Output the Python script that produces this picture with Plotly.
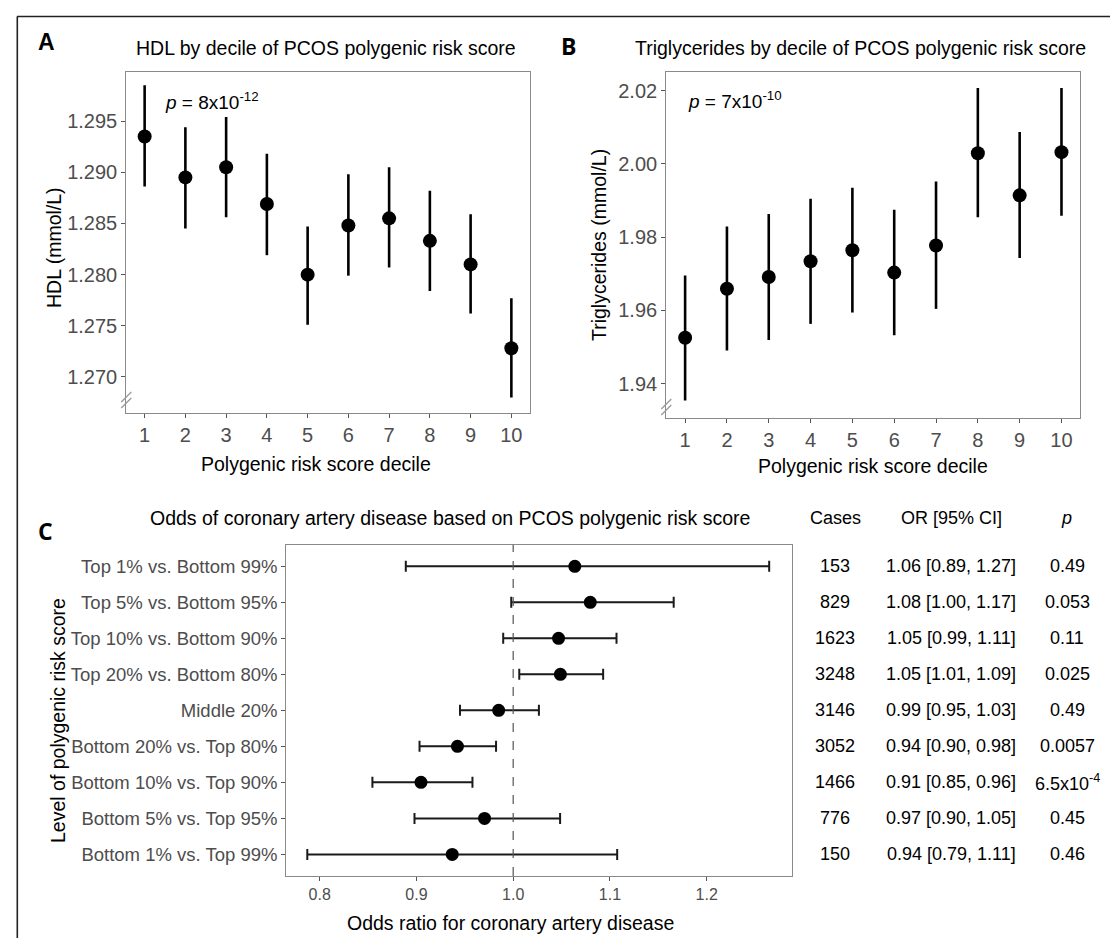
import plotly.graph_objects as go

W, H = 1118, 938

# ---------------- data ----------------
deciles = [1, 2, 3, 4, 5, 6, 7, 8, 9, 10]
hdl_mean = [1.2935, 1.2895, 1.2905, 1.2869, 1.2800, 1.2848, 1.2855, 1.2833, 1.2810, 1.2728]
hdl_lo = [1.2886, 1.2845, 1.2856, 1.2819, 1.2751, 1.2799, 1.2807, 1.2784, 1.2762, 1.2680]
hdl_hi = [1.2985, 1.2944, 1.2954, 1.2918, 1.2847, 1.2898, 1.2905, 1.2882, 1.2859, 1.2777]

tg_mean = [1.9525, 1.9659, 1.9691, 1.9734, 1.9764, 1.9703, 1.9777, 2.0029, 1.9914, 2.0032]
tg_lo = [1.9354, 1.9490, 1.9519, 1.9563, 1.9594, 1.9532, 1.9604, 1.9854, 1.9743, 1.9858]
tg_hi = [1.9695, 1.9829, 1.9863, 1.9905, 1.9935, 1.9875, 1.9952, 2.0207, 2.0087, 2.0207]

groups = ["Top 1% vs. Bottom 99%", "Top 5% vs. Bottom 95%", "Top 10% vs. Bottom 90%",
          "Top 20% vs. Bottom 80%", "Middle 20%", "Bottom 20% vs. Top 80%",
          "Bottom 10% vs. Top 90%", "Bottom 5% vs. Top 95%", "Bottom 1% vs. Top 99%"]
or_est = [1.0637, 1.0797, 1.0469, 1.0488, 0.985, 0.9424, 0.9047, 0.9704, 0.937]
or_lo = [0.889, 0.998, 0.9897, 1.0063, 0.945, 0.9032, 0.8545, 0.898, 0.7872]
or_hi = [1.2646, 1.1659, 1.1068, 1.093, 1.0266, 0.9823, 0.9579, 1.0485, 1.1075]
cases = ["153", "829", "1623", "3248", "3146", "3052", "1466", "776", "150"]
or_text = ["1.06 [0.89, 1.27]", "1.08 [1.00, 1.17]", "1.05 [0.99, 1.11]", "1.05 [1.01, 1.09]",
           "0.99 [0.95, 1.03]", "0.94 [0.90, 0.98]", "0.91 [0.85, 0.96]", "0.97 [0.90, 1.05]",
           "0.94 [0.79, 1.11]"]
p_text = ["0.49", "0.053", "0.11", "0.025", "0.49", "0.0057", "6.5x10<sup>-4</sup>", "0.45", "0.46"]

hdl_ticks = [1.270, 1.275, 1.280, 1.285, 1.290, 1.295]
tg_ticks = [1.94, 1.96, 1.98, 2.00, 2.02]
or_ticks = [0.8, 0.9, 1.0, 1.1, 1.2]

# ---------------- helpers ----------------
FONT = "Liberation Sans, Arial, sans-serif"
TICK_COL = "#4d4d4d"
BOX_COL = "#8a8a8a"


def px_x(p):
    return p / W


def px_y(p):
    return 1 - p / H


fig = go.Figure()

fig.add_trace(go.Scatter(
    x=deciles, y=hdl_mean, mode="markers", xaxis="x", yaxis="y",
    marker=dict(size=14, color="black"),
    error_y=dict(type="data", symmetric=False,
                 array=[h - m for h, m in zip(hdl_hi, hdl_mean)],
                 arrayminus=[m - l for m, l in zip(hdl_mean, hdl_lo)],
                 width=0, thickness=2.6, color="black"),
    hoverinfo="x+y"))

fig.add_trace(go.Scatter(
    x=deciles, y=tg_mean, mode="markers", xaxis="x2", yaxis="y2",
    marker=dict(size=14, color="black"),
    error_y=dict(type="data", symmetric=False,
                 array=[h - m for h, m in zip(tg_hi, tg_mean)],
                 arrayminus=[m - l for m, l in zip(tg_mean, tg_lo)],
                 width=0, thickness=2.6, color="black"),
    hoverinfo="x+y"))

fig.add_trace(go.Scatter(
    x=or_est, y=groups, mode="markers", xaxis="x3", yaxis="y3",
    marker=dict(size=13, color="black"),
    error_x=dict(type="data", symmetric=False,
                 array=[h - m for h, m in zip(or_hi, or_est)],
                 arrayminus=[m - l for m, l in zip(or_est, or_lo)],
                 width=5.5, thickness=2, color="#1a1a1a"),
    hoverinfo="x+y"))

axis_common = dict(showline=True, mirror=True, linecolor=BOX_COL, linewidth=1.2,
                   ticks="outside", ticklen=4, tickcolor="#555555", tickwidth=1,
                   showgrid=False, zeroline=False,
                   tickfont=dict(family=FONT, size=20, color=TICK_COL))

# domains (pixel positions of panel boxes)
A_x = [px_x(118.3), px_x(521.7)]
A_y = [px_y(405), px_y(64)]
B_x = [px_x(658.3), px_x(1072.3)]
B_y = [px_y(410), px_y(64.3)]
C_x = [px_x(278.3), px_x(784.3)]
C_y = [px_y(868), px_y(536.7)]

fig.update_layout(
    width=W, height=H,
    margin=dict(l=0, r=0, t=0, b=0),
    paper_bgcolor="white", plot_bgcolor="white",
    showlegend=False,
    font=dict(family=FONT),
    xaxis=dict(domain=A_x, anchor="y", range=[0.55, 10.45], tickvals=deciles, **axis_common),
    yaxis=dict(domain=A_y, anchor="x", range=[1.26648, 1.2998], tickvals=hdl_ticks,
               tickformat=".3f", **axis_common),
    xaxis2=dict(domain=B_x, anchor="y2", range=[0.55, 10.45], tickvals=deciles, **axis_common),
    yaxis2=dict(domain=B_y, anchor="x2", range=[1.9306, 2.0250], tickvals=tg_ticks,
                tickformat=".2f", **axis_common),
    xaxis3=dict(domain=C_x, anchor="y3", range=[0.7655, 1.2885], tickvals=or_ticks,
                tickformat=".1f", **{**axis_common,
                                     "tickfont": dict(family=FONT, size=16, color=TICK_COL)}),
    yaxis3=dict(domain=C_y, anchor="x3", type="category", categoryorder="array",
                categoryarray=groups, range=[8.6, -0.6],
                **{**axis_common, "tickfont": dict(family=FONT, size=18.5, color=TICK_COL)}),
)

shapes = []
# dashed reference line at OR = 1
shapes.append(dict(type="line", xref="x3", yref="y3 domain", x0=1.0, x1=1.0, y0=0, y1=1,
                   line=dict(color="#555555", width=1.2, dash="dash")))
# figure border (top and left)
shapes.append(dict(type="line", xref="paper", yref="paper", x0=px_x(9), x1=1, y0=px_y(8.5), y1=px_y(8.5),
                   line=dict(color="#222222", width=1.6)))
shapes.append(dict(type="line", xref="paper", yref="paper", x0=px_x(9.3), x1=px_x(9.3), y0=0, y1=px_y(8.5),
                   line=dict(color="#222222", width=1.6)))
# axis break marks
for bx, by in [(118.3, 392), (658.3, 399)]:
    for off in (-3, 3):
        shapes.append(dict(type="line", xref="paper", yref="paper",
                           x0=px_x(bx - 5), y0=px_y(by + off + 5),
                           x1=px_x(bx + 5), y1=px_y(by + off - 5),
                           line=dict(color="#9a9a9a", width=1.3)))
fig.update_layout(shapes=shapes)

ann = []


def text(x, y, s, size=18, color="black", xanchor="center", bold=False, family=FONT, textangle=0):
    ann.append(dict(x=px_x(x), y=px_y(y), xref="paper", yref="paper", text=s, showarrow=False,
                    xanchor=xanchor, yanchor="middle", textangle=textangle,
                    font=dict(family=family, size=size, color=color)))


# panel letters
text(38, 34, "<b>A</b>", size=23)
text(560, 38, "<b>B</b>", size=23, family="Open Sans, Liberation Sans, sans-serif")
text(37, 523, "<b>C</b>", size=23, family="Open Sans, Liberation Sans, sans-serif")

# titles
text(318, 40, "HDL by decile of PCOS polygenic risk score", size=19.5)
text(852, 40, "Triglycerides by decile of PCOS polygenic risk score", size=19.5)
text(442, 510, "Odds of coronary artery disease based on PCOS polygenic risk score", size=19.5)

# axis titles
text(308, 456, "Polygenic risk score decile", size=19.5)
text(865, 458, "Polygenic risk score decile", size=19.5)
text(502, 915, "Odds ratio for coronary artery disease", size=19.5)
text(46, 240, "HDL (mmol/L)", size=19.5, textangle=-90)
text(591, 237, "Triglycerides (mmol/L)", size=19.5, textangle=-90)
text(50, 713, "Level of polygenic risk score", size=19.5, textangle=-90)

# p-value annotations
text(155, 93, "<i>p</i> = 8x10<sup>-12</sup>", size=19, xanchor="left")
text(678, 92, "<i>p</i> = 7x10<sup>-10</sup>", size=19, xanchor="left")

# table headers
text(827, 510, "Cases", size=18)
text(943, 510, "OR [95% CI]", size=18)
text(1058, 510, "<i>p</i>", size=18)

fig.update_layout(annotations=ann)

# table body, positioned on the category axis of panel C
for g, c, o, p in zip(groups, cases, or_text, p_text):
    for xx, s in ((827, c), (943, o), (1059, p)):
        fig.add_annotation(x=px_x(xx), y=g, xref="paper", yref="y3", text=s, showarrow=False,
                           xanchor="center", yanchor="middle",
                           font=dict(family=FONT, size=18, color="black"))

fig.write_html("out.html")
